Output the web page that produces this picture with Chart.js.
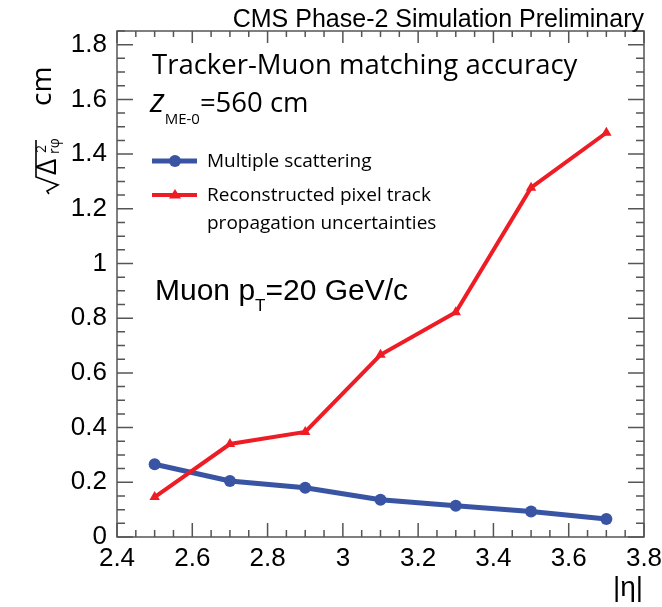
<!DOCTYPE html>
<html>
<head>
<meta charset="utf-8">
<script src="https://cdn.jsdelivr.net/npm/chart.js@4.4.1/dist/chart.umd.min.js"></script>
<style>
    html, body { margin: 0; padding: 0; background: #fff; }
    #wrap { width: 662px; height: 607px; position: relative; }
</style>
</head>
<body>
<div id="wrap"><canvas id="myChart"></canvas></div>
<script>
'use strict';

// |eta| points
let etaValues = [2.5, 2.7, 2.9, 3.1, 3.3, 3.5, 3.7];
// multiple scattering, cm
let msValues = [0.266, 0.205, 0.180, 0.136, 0.114, 0.093, 0.066];
// reconstructed pixel track propagation uncertainties, cm
let pixValues = [0.146, 0.340, 0.384, 0.666, 0.822, 1.277, 1.478];

let msLabel = 'Multiple scattering';
let pixLabel = 'Reconstructed pixel track';
let pixLabel2 = 'propagation uncertainties';

let blue = '#3a54a4';
let red = '#ee1c25';
let frameColor = '#555555';
let myriad = '"Open Sans", "Noto Sans", sans-serif';
let helv = '"Liberation Sans", Arial, sans-serif';

function toPoints(xs, ys) {
    let pts = [];
    for (let i = 0; i < xs.length; i++) {
        pts.push({ x: xs[i], y: ys[i] });
    }
    return pts;
}

function tickText(value) {
    return String(Math.round(value * 100) / 100);
}

// frame on four sides with inward ticks
let framePlugin = {
    id: 'frame',
    afterDraw(chart) {
        let ctx = chart.ctx;
        let a = chart.chartArea;
        let xs = chart.scales.x;
        let ys = chart.scales.y;
        ctx.save();
        ctx.strokeStyle = frameColor;
        ctx.lineWidth = 1.5;
        ctx.strokeRect(a.left, a.top, a.right - a.left, a.bottom - a.top);
        ctx.beginPath();
        for (let v = 2.4; v <= 3.8001; v += 0.05) {
            let px = xs.getPixelForValue(v);
            let major = Math.abs(v * 5 - Math.round(v * 5)) < 0.01;
            let lb = major ? 14 : 7;
            let lt = major ? 12 : 6;
            ctx.moveTo(px, a.bottom);
            ctx.lineTo(px, a.bottom - lb);
            ctx.moveTo(px, a.top);
            ctx.lineTo(px, a.top + lt);
        }
        for (let v = 0; v <= 1.8501; v += 0.05) {
            let py = ys.getPixelForValue(v);
            let major = Math.abs(v * 5 - Math.round(v * 5)) < 0.01;
            let l = major ? 16 : 8;
            ctx.moveTo(a.left, py);
            ctx.lineTo(a.left + l, py);
            ctx.moveTo(a.right, py);
            ctx.lineTo(a.right - l, py);
        }
        ctx.stroke();
        ctx.restore();
    }
};

let textPlugin = {
    id: 'texts',
    afterDraw(chart) {
        let ctx = chart.ctx;
        let a = chart.chartArea;
        let ds = chart.data.datasets;
        ctx.save();
        ctx.fillStyle = '#000';
        ctx.textBaseline = 'alphabetic';

        // header
        ctx.textAlign = 'right';
        ctx.font = '25px ' + helv;
        ctx.fillText('CMS Phase-2 Simulation Preliminary', a.right, 27);

        ctx.textAlign = 'left';
        ctx.font = '27.5px ' + myriad;
        ctx.fillText('Tracker-Muon matching accuracy', 152, 74);

        // z_ME-0 = 560 cm
        ctx.font = 'italic 33px ' + myriad;
        ctx.fillText('z', 150, 112);
        let zw = ctx.measureText('z').width;
        ctx.font = '15px ' + myriad;
        ctx.fillText('ME-0', 150 + zw, 124);
        let sw = ctx.measureText('ME-0').width;
        ctx.font = '27.5px ' + myriad;
        ctx.fillText('=560 cm', 150 + zw + sw, 112);

        // legend
        let rows = [
            { y: 161, text: [msLabel], d: ds[0] },
            { y: 195, text: [pixLabel, pixLabel2], d: ds[1] }
        ];
        for (let r of rows) {
            ctx.strokeStyle = r.d.borderColor;
            ctx.lineWidth = r.d.borderWidth;
            ctx.beginPath();
            ctx.moveTo(152, r.y);
            ctx.lineTo(197, r.y);
            ctx.stroke();
            ctx.fillStyle = r.d.borderColor;
            ctx.beginPath();
            if (r.d.pointStyle === 'circle') {
                ctx.arc(175, r.y, r.d.pointRadius, 0, Math.PI * 2);
            } else {
                let s = r.d.pointRadius;
                ctx.moveTo(175, r.y - s);
                ctx.lineTo(175 + s, r.y + s * 0.6);
                ctx.lineTo(175 - s, r.y + s * 0.6);
                ctx.closePath();
            }
            ctx.fill();
            ctx.fillStyle = '#000';
            ctx.font = '19px ' + myriad;
            for (let i = 0; i < r.text.length; i++) {
                ctx.fillText(r.text[i], 207, r.y + 6 + i * 28);
            }
        }

        // Muon pT
        ctx.font = '30px ' + helv;
        ctx.fillText('Muon p', 155, 300);
        let mw = ctx.measureText('Muon p').width;
        ctx.font = '17px ' + helv;
        ctx.fillText('T', 155 + mw, 311);
        let tw = ctx.measureText('T').width;
        ctx.font = '30px ' + helv;
        ctx.fillText('=20 GeV/c', 155 + mw + tw, 300);

        // x title
        ctx.textAlign = 'right';
        ctx.font = '28px ' + helv;
        ctx.fillText('|\u03b7|', a.right - 1, 596);

        // y title, rotated
        ctx.translate(56, 200);
        ctx.rotate(-Math.PI / 2);
        ctx.textAlign = 'left';
        ctx.strokeStyle = '#000';
        ctx.lineWidth = 1.6;
        ctx.beginPath();
        ctx.moveTo(6, -7);
        ctx.lineTo(9, -9);
        ctx.lineTo(15, 2);
        ctx.lineTo(23, -20);
        ctx.lineTo(60, -20);
        ctx.stroke();
        ctx.font = '28px ' + myriad;
        ctx.fillText('\u0394', 25, 0);
        ctx.font = '14px ' + myriad;
        ctx.fillText('2', 47, -10);
        ctx.fillText('r\u03c6', 46, 3);
        ctx.font = '28px ' + myriad;
        ctx.fillText('cm', 94, -5);
        ctx.restore();
    }
};

let ctx = document.getElementById('myChart').getContext('2d');
let myChart = new Chart(ctx, {
    type: 'line',
    data: {
        datasets: [{
            label: msLabel,
            data: toPoints(etaValues, msValues),
            borderColor: blue,
            backgroundColor: blue,
            borderWidth: 5,
            pointStyle: 'circle',
            pointRadius: 6,
            pointBorderWidth: 0,
            order: 2
        }, {
            label: pixLabel,
            data: toPoints(etaValues, pixValues),
            borderColor: red,
            backgroundColor: red,
            borderWidth: 4,
            pointStyle: 'triangle',
            pointRadius: 6,
            pointBorderWidth: 0,
            order: 1
        }]
    },
    options: {
        responsive: true,
        maintainAspectRatio: false,
        animation: false,
        layout: { padding: { top: 31, right: 18, left: 0, bottom: 0 } },
        plugins: {
            legend: { display: false },
            tooltip: { enabled: false }
        },
        scales: {
            x: {
                type: 'linear',
                min: 2.4,
                max: 3.8,
                grid: { display: false, drawTicks: false },
                border: { display: false },
                ticks: {
                    stepSize: 0.2,
                    includeBounds: false,
                    maxRotation: 0,
                    autoSkip: false,
                    padding: 6,
                    color: '#000',
                    font: { family: helv, size: 26 },
                    callback: tickText
                },
                afterFit(scale) {
                    scale.height = 70;
                    scale.paddingLeft = 0;
                    scale.paddingRight = 0;
                }
            },
            y: {
                min: 0,
                max: 1.85,
                grid: { display: false, drawTicks: false },
                border: { display: false },
                ticks: {
                    stepSize: 0.2,
                    includeBounds: false,
                    autoSkip: false,
                    padding: 10,
                    color: '#000',
                    font: { family: helv, size: 26 },
                    callback: tickText
                },
                afterFit(scale) {
                    scale.width = 117;
                    scale.paddingTop = 0;
                    scale.paddingBottom = 0;
                }
            }
        }
    },
    plugins: [framePlugin, textPlugin]
});
</script>
</body>
</html>
